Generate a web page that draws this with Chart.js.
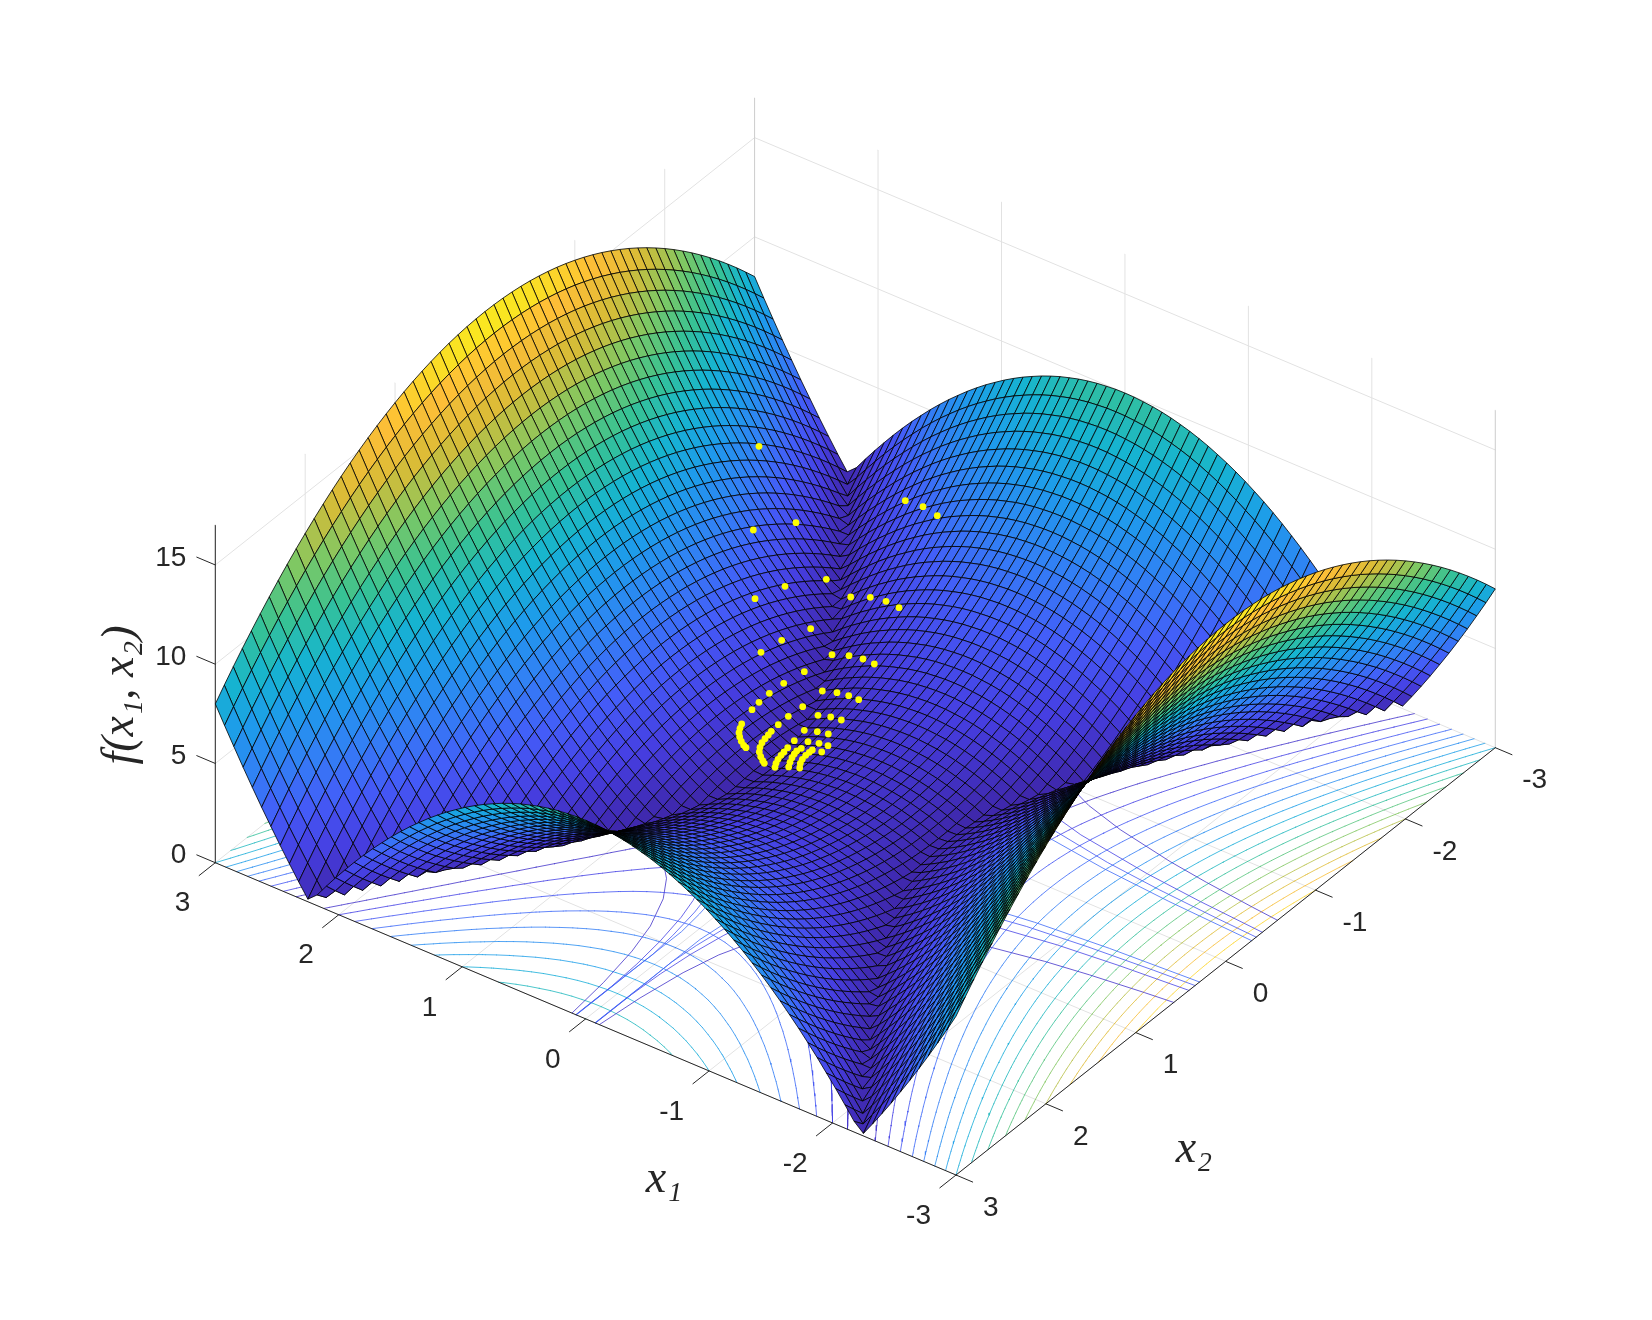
<!DOCTYPE html>
<html><head><meta charset="utf-8">
<style>html,body{margin:0;padding:0;background:#fff}canvas{display:block}</style>
<script src="https://cdn.jsdelivr.net/npm/chart.js@4/dist/chart.umd.js"></script>
</head><body><canvas id="c" width="1652" height="1320"></canvas>
<script>
const x1Ticks=[3,2,1,0,-1,-2,-3];
const x2Ticks=[3,2,1,0,-1,-2,-3];
const zTicks=[0,5,10,15];
const contourLevels=[1,2,3,4,5,6,7,8,9,10,11,12,13,14,15,16];
// f(x1,x2) read at |x1| = 0, 0.075 ... 3 (rows) and |x2| = 0, 0.1 ... 3 (columns); the surface is mirror-symmetric
const zQuadrant=[
[1,1.01,1.04,1.09,1.16,1.25,1.36,1.49,1.64,1.81,2,2.21,2.44,2.69,2.96,3.25,3.56,3.89,4.24,4.61,5,5.41,5.84,6.29,6.76,7.25,7.76,8.29,8.84,9.41,10],
[.99,1,1.03,1.08,1.15,1.24,1.35,1.48,1.63,1.8,1.99,2.2,2.43,2.68,2.95,3.24,3.55,3.88,4.23,4.6,4.99,5.4,5.83,6.28,6.75,7.24,7.75,8.28,8.83,9.4,9.99],
[.95,.96,.99,1.04,1.11,1.2,1.31,1.44,1.59,1.76,1.95,2.16,2.39,2.64,2.91,3.2,3.51,3.84,4.19,4.56,4.95,5.36,5.79,6.24,6.71,7.2,7.71,8.24,8.79,9.36,9.95],
[.9,.91,.94,.99,1.06,1.15,1.26,1.39,1.54,1.71,1.9,2.11,2.34,2.59,2.86,3.15,3.46,3.79,4.14,4.51,4.9,5.31,5.74,6.19,6.66,7.15,7.66,8.19,8.74,9.31,9.9],
[.82,.83,.86,.91,.98,1.07,1.18,1.31,1.46,1.63,1.82,2.03,2.26,2.51,2.78,3.07,3.38,3.71,4.06,4.43,4.82,5.23,5.66,6.11,6.58,7.07,7.58,8.11,8.66,9.23,9.82],
[.72,.73,.76,.81,.88,.97,1.08,1.21,1.36,1.53,1.72,1.93,2.16,2.41,2.68,2.97,3.28,3.61,3.96,4.33,4.72,5.13,5.56,6.01,6.48,6.97,7.48,8.01,8.56,9.13,9.72],
[.59,.6,.63,.68,.75,.84,.95,1.08,1.23,1.4,1.59,1.8,2.03,2.28,2.55,2.84,3.15,3.48,3.83,4.2,4.59,5,5.43,5.88,6.35,6.84,7.35,7.88,8.43,9,9.59],
[.45,.46,.49,.54,.61,.7,.81,.94,1.09,1.26,1.45,1.66,1.89,2.14,2.41,2.7,3.01,3.34,3.69,4.06,4.45,4.86,5.29,5.74,6.21,6.7,7.21,7.74,8.29,8.86,9.45],
[.28,.29,.32,.37,.44,.53,.64,.77,.92,1.09,1.28,1.49,1.72,1.97,2.24,2.53,2.84,3.17,3.52,3.89,4.28,4.69,5.12,5.57,6.04,6.53,7.04,7.57,8.12,8.69,9.28],
[.09,.1,.13,.18,.25,.34,.45,.58,.73,.9,1.09,1.3,1.53,1.78,2.05,2.34,2.65,2.98,3.33,3.7,4.09,4.5,4.93,5.38,5.85,6.34,6.85,7.38,7.93,8.5,9.09],
[.13,.12,.09,.04,.03,.12,.23,.36,.51,.68,.87,1.08,1.31,1.56,1.83,2.12,2.43,2.76,3.11,3.48,3.87,4.28,4.71,5.16,5.63,6.12,6.63,7.16,7.71,8.28,8.87],
[.36,.35,.32,.27,.2,.11,0,.13,.28,.45,.64,.85,1.08,1.33,1.6,1.89,2.2,2.53,2.88,3.25,3.64,4.05,4.48,4.93,5.4,5.89,6.4,6.93,7.48,8.05,8.64],
[.62,.61,.58,.53,.46,.37,.26,.13,.02,.19,.38,.59,.82,1.07,1.34,1.63,1.94,2.27,2.62,2.99,3.38,3.79,4.22,4.67,5.14,5.63,6.14,6.67,7.22,7.79,8.38],
[.9,.89,.86,.81,.74,.65,.54,.41,.26,.09,.1,.31,.54,.79,1.06,1.35,1.66,1.99,2.34,2.71,3.1,3.51,3.94,4.39,4.86,5.35,5.86,6.39,6.94,7.51,8.1],
[1.21,1.2,1.17,1.12,1.05,.96,.85,.72,.57,.4,.21,0,.23,.48,.75,1.04,1.35,1.68,2.03,2.4,2.79,3.2,3.63,4.08,4.55,5.04,5.55,6.08,6.63,7.2,7.79],
[1.53,1.52,1.49,1.44,1.37,1.28,1.17,1.04,.89,.72,.53,.32,.09,.16,.43,.72,1.03,1.36,1.71,2.08,2.47,2.88,3.31,3.76,4.23,4.72,5.23,5.76,6.31,6.88,7.47],
[1.88,1.87,1.84,1.79,1.72,1.63,1.52,1.39,1.24,1.07,.88,.67,.44,.19,.08,.37,.68,1.01,1.36,1.73,2.12,2.53,2.96,3.41,3.88,4.37,4.88,5.41,5.96,6.53,7.12],
[2.25,2.24,2.21,2.16,2.09,2,1.89,1.76,1.61,1.44,1.25,1.04,.81,.56,.29,0,.31,.64,.99,1.36,1.75,2.16,2.59,3.04,3.51,4,4.51,5.04,5.59,6.16,6.75],
[2.65,2.64,2.61,2.56,2.49,2.4,2.29,2.16,2.01,1.84,1.65,1.44,1.21,.96,.69,.4,.09,.24,.59,.96,1.35,1.76,2.19,2.64,3.11,3.6,4.11,4.64,5.19,5.76,6.35],
[3.06,3.05,3.02,2.97,2.9,2.81,2.7,2.57,2.42,2.25,2.06,1.85,1.62,1.37,1.1,.81,.5,.17,.18,.55,.94,1.35,1.78,2.23,2.7,3.19,3.7,4.23,4.78,5.35,5.94],
[3.5,3.49,3.46,3.41,3.34,3.25,3.14,3.01,2.86,2.69,2.5,2.29,2.06,1.81,1.54,1.25,.94,.61,.26,.11,.5,.91,1.34,1.79,2.26,2.75,3.26,3.79,4.34,4.91,5.5],
[3.96,3.95,3.92,3.87,3.8,3.71,3.6,3.47,3.32,3.15,2.96,2.75,2.52,2.27,2,1.71,1.4,1.07,.72,.35,.04,.45,.88,1.33,1.8,2.29,2.8,3.33,3.88,4.45,5.04],
[4.45,4.44,4.41,4.36,4.29,4.2,4.09,3.96,3.81,3.64,3.45,3.24,3.01,2.76,2.49,2.2,1.89,1.56,1.21,.84,.45,.04,.39,.84,1.31,1.8,2.31,2.84,3.39,3.96,4.55],
[4.95,4.94,4.91,4.86,4.79,4.7,4.59,4.46,4.31,4.14,3.95,3.74,3.51,3.26,2.99,2.7,2.39,2.06,1.71,1.34,.95,.54,.11,.34,.81,1.3,1.81,2.34,2.89,3.46,4.05],
[5.48,5.47,5.44,5.39,5.32,5.23,5.12,4.99,4.84,4.67,4.48,4.27,4.04,3.79,3.52,3.23,2.92,2.59,2.24,1.87,1.48,1.07,.64,.19,.28,.77,1.28,1.81,2.36,2.93,3.52],
[6.03,6.02,5.99,5.94,5.87,5.78,5.67,5.54,5.39,5.22,5.03,4.82,4.59,4.34,4.07,3.78,3.47,3.14,2.79,2.42,2.03,1.62,1.19,.74,.27,.22,.73,1.26,1.81,2.38,2.97],
[6.61,6.6,6.57,6.52,6.45,6.36,6.25,6.12,5.97,5.8,5.61,5.4,5.17,4.92,4.65,4.36,4.05,3.72,3.37,3,2.61,2.2,1.77,1.32,.85,.36,.15,.68,1.23,1.8,2.39],
[7.2,7.19,7.16,7.11,7.04,6.95,6.84,6.71,6.56,6.39,6.2,5.99,5.76,5.51,5.24,4.95,4.64,4.31,3.96,3.59,3.2,2.79,2.36,1.91,1.44,.95,.44,.09,.64,1.21,1.8],
[7.82,7.81,7.78,7.73,7.66,7.57,7.46,7.33,7.18,7.01,6.82,6.61,6.38,6.13,5.86,5.57,5.26,4.93,4.58,4.21,3.82,3.41,2.98,2.53,2.06,1.57,1.06,.53,.02,.59,1.18],
[8.46,8.45,8.42,8.37,8.3,8.21,8.1,7.97,7.82,7.65,7.46,7.25,7.02,6.77,6.5,6.21,5.9,5.57,5.22,4.85,4.46,4.05,3.62,3.17,2.7,2.21,1.7,1.17,.62,.05,.54],
[9.13,9.12,9.09,9.04,8.97,8.88,8.77,8.64,8.49,8.32,8.13,7.92,7.69,7.44,7.17,6.88,6.57,6.24,5.89,5.52,5.13,4.72,4.29,3.84,3.37,2.88,2.37,1.84,1.29,.72,.13],
[9.81,9.8,9.77,9.72,9.65,9.56,9.45,9.32,9.17,9,8.81,8.6,8.37,8.12,7.85,7.56,7.25,6.92,6.57,6.2,5.81,5.4,4.97,4.52,4.05,3.56,3.05,2.52,1.97,1.4,.81],
[10.52,10.51,10.48,10.43,10.36,10.27,10.16,10.03,9.88,9.71,9.52,9.31,9.08,8.83,8.56,8.27,7.96,7.63,7.28,6.91,6.52,6.11,5.68,5.23,4.76,4.27,3.76,3.23,2.68,2.11,1.52],
[11.25,11.24,11.21,11.16,11.09,11,10.89,10.76,10.61,10.44,10.25,10.04,9.81,9.56,9.29,9,8.69,8.36,8.01,7.64,7.25,6.84,6.41,5.96,5.49,5,4.49,3.96,3.41,2.84,2.25],
[12.01,12,11.97,11.92,11.85,11.76,11.65,11.52,11.37,11.2,11.01,10.8,10.57,10.32,10.05,9.76,9.45,9.12,8.77,8.4,8.01,7.6,7.17,6.72,6.25,5.76,5.25,4.72,4.17,3.6,3.01],
[12.78,12.77,12.74,12.69,12.62,12.53,12.42,12.29,12.14,11.97,11.78,11.57,11.34,11.09,10.82,10.53,10.22,9.89,9.54,9.17,8.78,8.37,7.94,7.49,7.02,6.53,6.02,5.49,4.94,4.37,3.78],
[13.58,13.57,13.54,13.49,13.42,13.33,13.22,13.09,12.94,12.77,12.58,12.37,12.14,11.89,11.62,11.33,11.02,10.69,10.34,9.97,9.58,9.17,8.74,8.29,7.82,7.33,6.82,6.29,5.74,5.17,4.58],
[14.4,14.39,14.36,14.31,14.24,14.15,14.04,13.91,13.76,13.59,13.4,13.19,12.96,12.71,12.44,12.15,11.84,11.51,11.16,10.79,10.4,9.99,9.56,9.11,8.64,8.15,7.64,7.11,6.56,5.99,5.4],
[15.25,15.24,15.21,15.16,15.09,15,14.89,14.76,14.61,14.44,14.25,14.04,13.81,13.56,13.29,13,12.69,12.36,12.01,11.64,11.25,10.84,10.41,9.96,9.49,9,8.49,7.96,7.41,6.84,6.25],
[16.11,16.1,16.07,16.02,15.95,15.86,15.75,15.62,15.47,15.3,15.11,14.9,14.67,14.42,14.15,13.86,13.55,13.22,12.87,12.5,12.11,11.7,11.27,10.82,10.35,9.86,9.35,8.82,8.27,7.7,7.11],
[17,16.99,16.96,16.91,16.84,16.75,16.64,16.51,16.36,16.19,16,15.79,15.56,15.31,15.04,14.75,14.44,14.11,13.76,13.39,13,12.59,12.16,11.71,11.24,10.75,10.24,9.71,9.16,8.59,8]
];
// the second, crossing family of floor contours (level, then |x1| and |x2|)
const crossLevels=[1,2,3,4];
const crossX1=[
[.111,.148,.207,.277,.391,.51,.694,.907,1.235,1.563,2.04,2.37,2.78,3],
[.08,.08,.095,.125,.173,.222,.296,.413,.554,.781,1.02,1.39,2,2.47,3],
[.078,.078,.075,.096,.136,.177,.241,.347,.542,.821,1.147,1.714,2.17,2.68,3],
[.076,.076,.075,.098,.128,.174,.25,.39,.59,.826,1.235,1.73,2.3,3]];
const crossX2=[
[3,2.6,2.2,1.9,1.6,1.4,1.2,1.05,.9,.8,.7,.65,.6,.577],
[3,2.6,2.3,2,1.7,1.5,1.3,1.1,.95,.8,.7,.6,.5,.45,.408],
[3,2.4,2.15,1.9,1.6,1.4,1.2,1,.8,.65,.55,.45,.4,.36,.34],
[3,2.2,1.83,1.6,1.4,1.2,1,.8,.65,.55,.45,.38,.33,.29]];
// iterates, read on the chart's view plane
const iterateU=[759,905.3,923,937.3,796,753.3,826.3,785,755,850.7,870.3,886,899,810.7,781.7,761,832,849,863,874.3,804.3,783.7,769.3,759,752,822.3,837,848.7,858.7,802.7,788.3,778.3,771.3,818,830.7,841.3,804.3,817.3,828.3,794.3,808,819,828,787.7,801.3,812.3,821.7,741.7,740,739,739.7,741.3,743.7,746,768.3,765,762,760,759.3,760.7,762.7,764.3,784,781,778,776,775,796.7,794.3,792,790,788.7,809.3,805.7,802.3,800.3,799.7];
const iterateV=[446.3,500.7,506.7,515.7,522.7,530,579.3,586.3,598.7,597,597.3,601.3,607.7,628.7,640.3,652.3,654.7,655.7,659,664,671.7,683.3,693.3,702.3,709.7,691,692.7,695.7,699.7,706.7,716.3,724.7,731.3,715.3,717,720,730.3,731.7,734,740.7,741.7,743.3,745.7,747.7,748.3,750,752,724,728.3,732.7,737,741.3,745.3,747.7,735,738.7,742.7,747.3,752,756.7,760.7,763.3,752,755.3,759.3,763.3,767.3,751,754,757.7,762.3,767,752.3,755.3,759.3,763.3,768];

const NI=80,NJ=60;
const coordI=i=>(i-40)*0.075, coordJ=j=>(j-30)*0.1;
const zGrid=[];
for(let i=0;i<=NI;i++){zGrid.push([]);for(let j=0;j<=NJ;j++)zGrid[i].push(zQuadrant[Math.abs(i-40)][Math.abs(j-30)]);}

const view={cx:855.3,cy:805.2,ax:-123.45,ay:-52.05,bx:-89.88,by:71.22,cz:-19.85};
const P=(a,b,z)=>({x:view.cx+view.ax*a+view.bx*b,y:view.cy+view.ay*a+view.by*b+view.cz*z});

const stops=[[62,38,168],[70,62,225],[68,92,248],[50,128,245],[30,155,235],[22,180,208],[55,194,148],[125,200,100],[215,188,55],[254,190,55],[248,245,25]];
function parula(t){t=Math.max(0,Math.min(1,t))*10;const k=Math.min(9,Math.floor(t)),f=t-k,a=stops[k],b=stops[k+1];
 return `rgb(${a.map((v,n)=>Math.round(v+(b[n]-v)*f)).join(',')})`;}

const layers=[];
const line=(pts,color,w)=>layers.push({data:pts,borderColor:color,borderWidth:w,pointRadius:0,fill:false,tension:0,spanGaps:false,clip:false,borderCapStyle:'round'});
const gridColor='#e2e2e2', cornerColor='#cdcdcd', axisColor='#262626';

// walls and floor grid
for(const t of x2Ticks){ if(t!==-3) line([P(3,t,0),P(3,t,17)],gridColor,1); line([P(3,t,0),P(-3,t,0)],gridColor,1);}
for(const t of x1Ticks){ if(t!==3&&t!==-3) line([P(t,-3,0),P(t,-3,17)],gridColor,1); line([P(t,-3,0),P(t,3,0)],gridColor,1);}
for(const z of zTicks.slice(1)){ line([P(3,3,z),P(3,-3,z)],gridColor,1); line([P(3,-3,z),P(-3,-3,z)],gridColor,1);}
line([P(3,-3,0),P(3,-3,17)],cornerColor,1);
line([P(-3,-3,0),P(-3,-3,17)],cornerColor,1);

for(const L of contourLevels){
 const pts=[];
 const cross=(i1,j1,i2,j2)=>{const a=zGrid[i1][j1],b=zGrid[i2][j2];if((a>=L)===(b>=L))return null;const t=(L-a)/(b-a);
  return P(coordI(i1+(i2-i1)*t),coordJ(j1+(j2-j1)*t),0);};
 for(let i=0;i<NI;i++)for(let j=0;j<NJ;j++){
  const c=[cross(i,j,i+1,j),cross(i+1,j,i+1,j+1),cross(i+1,j+1,i,j+1),cross(i,j+1,i,j)].filter(Boolean);
  for(let k=0;k+1<c.length;k+=2){pts.push(c[k],c[k+1],{x:null,y:null});}
 }
 line(pts,parula(L/17),0.8);
}
// crossing contours, in all four quadrants
crossLevels.forEach((L,n)=>{
 for(const s1 of [1,-1])for(const s2 of [1,-1])
  line(crossX1[n].map((v,k)=>P(s1*v,s2*crossX2[n][k],0)),parula(L/17),0.8);
});

// axes
line([P(3,3,0),P(-3,3,0)],axisColor,1);
line([P(-3,3,0),P(-3,-3,0)],axisColor,1);
line([P(3,3,0),P(3,3,17)],axisColor,1);
for(const t of x1Ticks) line([P(t,3,0),P(t,3.18,0)],axisColor,1);
for(const t of x2Ticks) line([P(-3,t,0),P(-3.135,t,0)],axisColor,1);
for(const z of zTicks) line([P(3,3,z),P(3.15,3,z)],axisColor,1);

// surface, painted from the back corner towards the viewer
for(let i=NI;i>=1;i--){for(let j=0;j<NJ;j++){
 const a=coordI(i),a2=coordI(i-1),b=coordJ(j),b2=coordJ(j+1);
 const zs=[zGrid[i][j],zGrid[i-1][j],zGrid[i-1][j+1],zGrid[i][j+1]];
 const p0=P(a,b,zs[0]);
 layers.push({data:[p0,P(a2,b,zs[1]),P(a2,b2,zs[2]),P(a,b2,zs[3]),p0],
  fill:'shape',backgroundColor:parula((zs[0]+zs[1]+zs[2]+zs[3])/4/17),borderColor:'#000',borderWidth:0.8,pointRadius:0,tension:0,clip:false,borderJoinStyle:'round'});
}}

// iterates
layers.push({data:iterateU.map((u,k)=>({x:u,y:iterateV[k]})),showLine:false,pointRadius:3.4,pointBackgroundColor:'#ffff00',pointBorderWidth:0,clip:false});

const textPlugin={id:'axisText',afterDraw(ch){
 const c=ch.ctx,sx=ch.scales.x,sy=ch.scales.y;
 const put=(t,p,dx,dy,al)=>{c.textAlign=al;c.fillText(t,sx.getPixelForValue(p.x)+dx,sy.getPixelForValue(p.y)+dy);};
 c.save();c.fillStyle='#262626';c.textBaseline='middle';c.font='28px "Liberation Sans"';
 for(const z of zTicks) put(String(z),P(3,3,z),-29,-7,'right');
 for(const t of x1Ticks) put(String(t),P(t,3,0),-25,41,'right');
 for(const t of x2Ticks) put(String(t),P(-3,t,0),27,33,'left');
 c.font='italic 46px "Liberation Serif"';c.textAlign='center';
 c.fillText('x\u2081',sx.getPixelForValue(664),sy.getPixelForValue(1180));
 c.fillText('x\u2082',sx.getPixelForValue(1194),sy.getPixelForValue(1150));
 c.translate(sx.getPixelForValue(121),sy.getPixelForValue(695));c.rotate(-Math.PI/2);
 c.fillText('f(x\u2081, x\u2082)',0,0);
 c.restore();
}};

new Chart(document.getElementById('c'),{
 type:'line',
 data:{datasets:layers.reverse()},
 options:{responsive:false,animation:false,events:[],layout:{padding:0,autoPadding:false},
  plugins:{legend:{display:false},title:{display:false},tooltip:{enabled:false}},
  scales:{x:{type:'linear',min:0,max:1652,display:false},y:{type:'linear',min:0,max:1320,reverse:true,display:false}}},
 plugins:[textPlugin]
});
</script></body></html>
